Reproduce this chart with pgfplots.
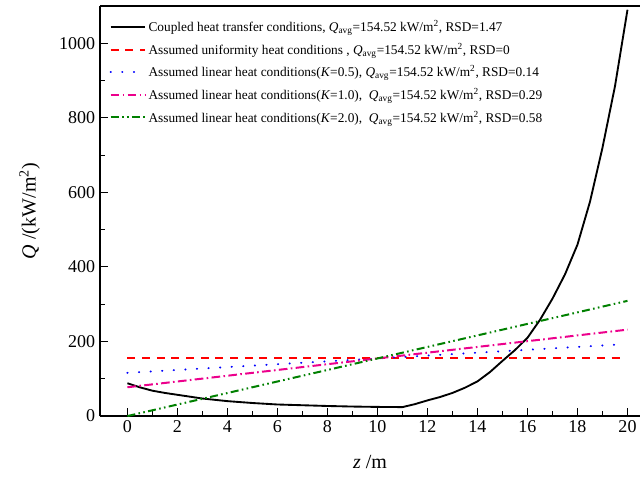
\documentclass[border=0pt]{standalone}
\usepackage{pgfplots}
\pgfplotsset{compat=1.18}
\usepackage{fontspec}
\setmainfont{Liberation Serif}
\definecolor{dgreen}{RGB}{0,128,0}
\begin{document}
\begin{tikzpicture}
\begin{axis}[
  scale only axis, width=405pt, height=307.5pt,
  xmin=-1.1, xmax=20.5, ymin=0, ymax=1100,
  axis x line*=bottom, axis y line*=left,
  tick align=inside,
  xtick={0,2,...,20}, minor x tick num=1,
  ytick={0,200,...,1000}, minor y tick num=1,
  major tick length=6pt, minor tick length=3.5pt,
  tick style={black, line width=0.8pt},
  axis line style={line width=1pt},
  ticklabel style={font=\fontsize{13.5}{13.5}\selectfont},
  /pgf/number format/assume math mode=true,
  /pgf/number format/1000 sep={},
  xlabel={\textit{z} /m}, ylabel={\textit{Q} /(kW/m\textsuperscript{2})},
  label style={font=\fontsize{15}{15}\selectfont},
  xlabel style={at={(axis description cs:0.5,-0.112)}, anchor=center},
  ylabel style={at={(axis description cs:-0.13,0.5)}, anchor=center, rotate=0},
  legend style={draw=none, fill=none, at={(axis description cs:0.015,0.975)}, anchor=north west,
    font=\fontsize{10}{12}\selectfont, row sep=3.2pt, inner sep=1pt},
  legend cell align=left,
  legend image code/.code={\draw[#1] (0cm,0cm) -- (0.9cm,0cm);},
]
\addplot[black, line width=1.4pt] coordinates {
(0,88) (0.5,77) (1,68) (1.5,62) (2,57) (3,47) (4,40) (5,35) (6,31) (7,29) (8,27) (9,25.5) (10,24.5) (11,24)
(11.5,32) (12,42) (12.5,51) (13,62) (13.5,76) (14,93) (14.5,118) (15,148) (15.5,177) (16,210) (16.5,258) (17,315) (17.5,380) (18,460) (18.5,575) (19,720) (19.5,885) (20,1090)};
\addlegendentry{Coupled heat transfer conditions, \textit{Q}\textsubscript{avg}=154.52 kW/m\textsuperscript{2}, RSD=1.47}
\addplot[red, line width=1.5pt, dash pattern=on 6pt off 5pt] coordinates {(0,154.52) (19.8,154.52)};
\addlegendentry{Assumed uniformity heat conditions , \textit{Q}\textsubscript{avg}=154.52 kW/m\textsuperscript{2}, RSD=0}
\addplot[blue, line width=1.6pt, line cap=round, dash pattern=on 0.1pt off 8.6pt] coordinates {(0,115.9) (19.8,192.4)};
\addlegendentry{Assumed linear heat conditions(\textit{K}=0.5), \textit{Q}\textsubscript{avg}=154.52 kW/m\textsuperscript{2}, RSD=0.14}
\addplot[magenta, line width=1.5pt, dash pattern=on 6.5pt off 2.5pt on 1.2pt off 2.5pt] coordinates {(0,77.26) (20,231.78)};
\addlegendentry{Assumed linear heat conditions(\textit{K}=1.0), \ \textit{Q}\textsubscript{avg}=154.52 kW/m\textsuperscript{2}, RSD=0.29}
\addplot[dgreen, line width=1.5pt, dash pattern=on 6pt off 2.5pt on 1.2pt off 2.5pt on 1.2pt off 2.5pt] coordinates {(0,0) (20,309.04)};
\addlegendentry{Assumed linear heat conditions(\textit{K}=2.0), \ \textit{Q}\textsubscript{avg}=154.52 kW/m\textsuperscript{2}, RSD=0.58}
\draw[line width=1pt] (rel axis cs:0,1) -- (rel axis cs:1,1);
\coordinate (bl) at (axis description cs:-0.185,-0.1537);
\coordinate (tr) at (axis description cs:1,1.0146);
\end{axis}
\pgfresetboundingbox
\useasboundingbox (bl) rectangle (tr);
\end{tikzpicture}
\end{document}
